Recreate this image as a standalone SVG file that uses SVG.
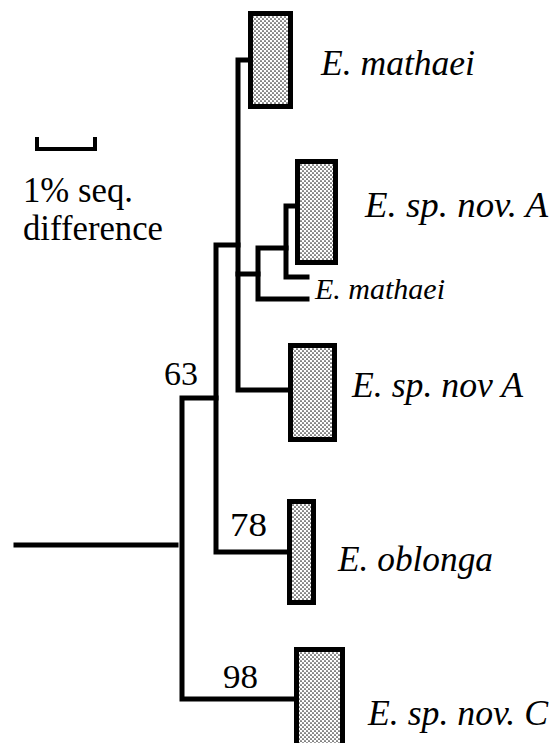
<svg xmlns="http://www.w3.org/2000/svg" width="559" height="743" viewBox="0 0 559 743">
<defs>
<pattern id="dots" width="4" height="4" patternUnits="userSpaceOnUse">
<rect width="4" height="4" fill="#ffffff"/>
<circle cx="1" cy="1" r="0.85" fill="#222"/>
<circle cx="3" cy="3" r="0.85" fill="#222"/>
</pattern>
<style>
.br{fill:none;stroke:#000;stroke-width:5;stroke-linecap:square;stroke-linejoin:miter}
.box{fill:url(#dots);stroke:#000;stroke-width:5}
text{font-family:"Liberation Serif","Times New Roman",serif;fill:#000}
.lab{font-style:italic;font-size:35px}
.num{font-size:34px}
</style>
</defs>
<rect width="559" height="743" fill="#fff"/>
<g id="connectors">
<path class="br" d="M16,545 H176"/>
<path class="br" d="M294,699 H182 V398 H216"/>
<path class="br" d="M287,552 H216 V245 H238"/>
<path class="br" d="M248,60 H238 V390 H288"/>
<path class="br" d="M238,274 H258"/>
<path class="br" d="M286,248 H258 V299 H307"/>
<path class="br" d="M295,206 H286 V277 H307"/>
</g>
<g id="scale">
<path d="M37,137 V149 H95 V137" fill="none" stroke="#000" stroke-width="4"/>
<text class="num" x="23" y="202" style="font-size:35px" textLength="110" lengthAdjust="spacingAndGlyphs">1% seq.</text>
<text class="num" x="23" y="240" style="font-size:35px" textLength="140" lengthAdjust="spacingAndGlyphs">difference</text>
</g>
<g id="n1"><rect class="box" x="250.5" y="13.5" width="40" height="93"/><text class="lab" x="321" y="75" textLength="154" lengthAdjust="spacingAndGlyphs">E. mathaei</text></g>
<g id="n2"><rect class="box" x="297.5" y="161.5" width="38" height="101"/><text class="lab" x="365" y="217" textLength="183" lengthAdjust="spacingAndGlyphs">E. sp. nov. A</text></g>
<g id="n3"><text class="lab" x="315" y="299" style="font-size:30px" textLength="130" lengthAdjust="spacingAndGlyphs">E. mathaei</text></g>
<g id="n4"><rect class="box" x="290.5" y="345.5" width="44" height="94"/><text class="lab" x="352" y="397" textLength="171" lengthAdjust="spacingAndGlyphs">E. sp. nov A</text></g>
<g id="n5"><rect class="box" x="289.5" y="501.5" width="24" height="101"/><text class="lab" x="338" y="571" textLength="155" lengthAdjust="spacingAndGlyphs">E. oblonga</text></g>
<g id="n6"><rect class="box" x="296.5" y="649.5" width="46" height="110"/><text class="lab" x="368" y="725" textLength="180" lengthAdjust="spacingAndGlyphs">E. sp. nov. C</text></g>
<g id="support">
<text class="num" x="164" y="385" textLength="34" lengthAdjust="spacingAndGlyphs">63</text>
<text class="num" x="230" y="536" textLength="37" lengthAdjust="spacingAndGlyphs">78</text>
<text class="num" x="223" y="688" textLength="35" lengthAdjust="spacingAndGlyphs">98</text>
</g>
</svg>
